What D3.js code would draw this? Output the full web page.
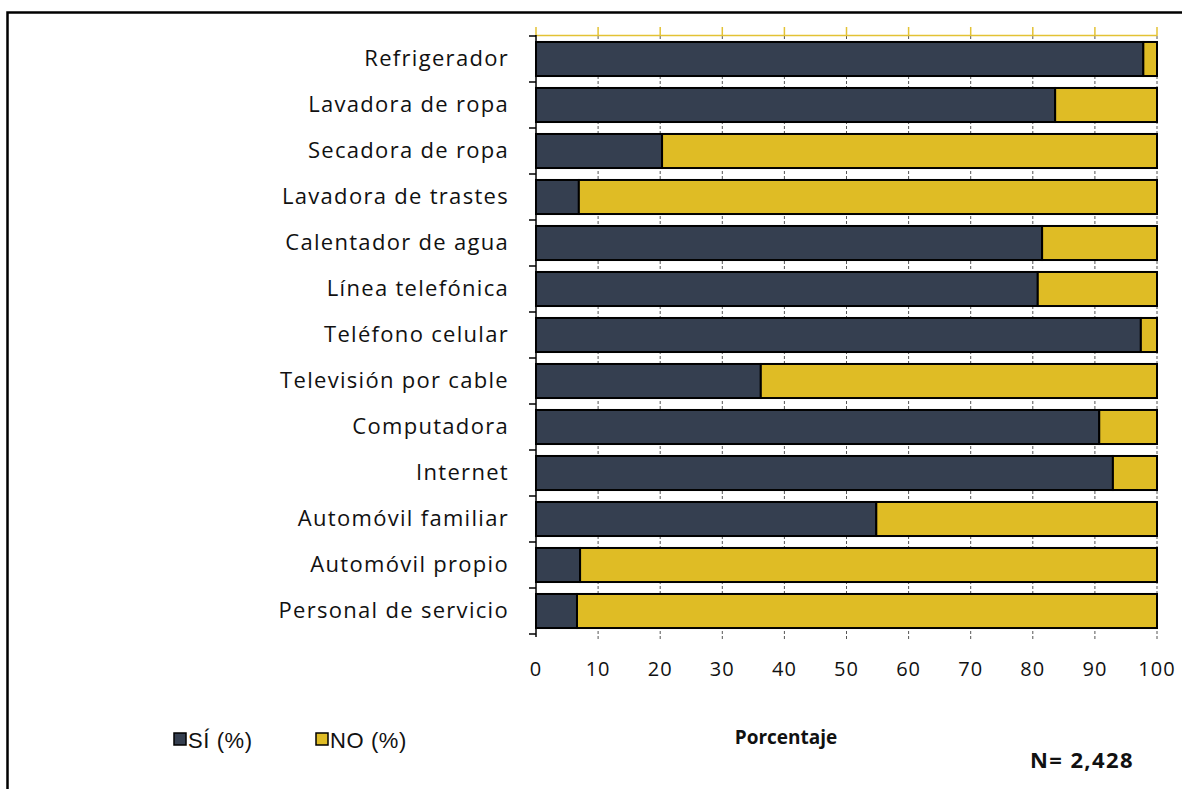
<!DOCTYPE html>
<html>
<head>
<meta charset="utf-8">
<script src="https://cdn.jsdelivr.net/npm/d3@7"></script>
<style>
  body { margin: 0; background: #fff; }
  svg { display: block; }
</style>
</head>
<body>
<div id="chart"></div>
<script>
// categories, top to bottom
var categories = [
    "Refrigerador", "Lavadora de ropa", "Secadora de ropa", "Lavadora de trastes",
    "Calentador de agua", "Línea telefónica", "Teléfono celular", "Televisión por cable",
    "Computadora", "Internet", "Automóvil familiar", "Automóvil propio", "Personal de servicio"
];
// percentage answering yes
var siValues = [97.8, 83.6, 20.3, 6.9, 81.5, 80.8, 97.4, 36.2, 90.7, 92.9, 54.8, 7.1, 6.6];
var xTicks = [0, 10, 20, 30, 40, 50, 60, 70, 80, 90, 100];
var seriesNames = ["SÍ (%)", "NO (%)"];
var colours = ["#353f50", "#dfbc25"];

var W = 1182, H = 789;
var svg = d3.select("#chart").append("svg")
    .attr("width", W)
    .attr("height", H);

// outer frame, runs off right and bottom edges
svg.append("rect")
    .attr("x", 7.5).attr("y", 12.5)
    .attr("width", W + 20).attr("height", H + 20)
    .attr("fill", "none")
    .attr("stroke", "#000")
    .attr("stroke-width", 2.5);

var x = d3.scaleLinear().domain([0, 100]).range([536, 1157]);
var y = d3.scaleBand().domain(categories).range([36, 634])
    .paddingInner(0.26).paddingOuter(0.13);

var data = categories.map(function(c, i) {
    return { cat: c, si: siValues[i], no: 100 - siValues[i] };
});

// gridlines behind the bars
svg.append("g").selectAll("line")
    .data(xTicks.slice(1))
    .enter().append("line")
    .attr("x1", function(d) { return x(d); })
    .attr("x2", function(d) { return x(d); })
    .attr("y1", 36).attr("y2", 639)
    .attr("stroke", "#555")
    .attr("stroke-width", 1)
    .attr("stroke-dasharray", "3,2");

// top gold line with ticks
var topLine = svg.append("g");
topLine.append("line")
    .attr("x1", x(0)).attr("x2", x(100))
    .attr("y1", 35.5).attr("y2", 35.5)
    .attr("stroke", "#e3c234").attr("stroke-width", 1.5);
topLine.selectAll(".gt")
    .data(xTicks)
    .enter().append("line")
    .attr("class", "gt")
    .attr("x1", function(d) { return x(d); })
    .attr("x2", function(d) { return x(d); })
    .attr("y1", 27).attr("y2", 36)
    .attr("stroke", "#e3c234").attr("stroke-width", 1.5);

// bars
var rows = svg.append("g").selectAll(".row")
    .data(data)
    .enter().append("g")
    .attr("class", "row");

rows.append("rect")
    .attr("x", x(0))
    .attr("y", function(d) { return y(d.cat); })
    .attr("width", function(d) { return x(d.si) - x(0); })
    .attr("height", y.bandwidth())
    .attr("fill", colours[0])
    .attr("stroke", "#000")
    .attr("stroke-width", 2);

rows.append("rect")
    .attr("x", function(d) { return x(d.si); })
    .attr("y", function(d) { return y(d.cat); })
    .attr("width", function(d) { return x(100) - x(d.si); })
    .attr("height", y.bandwidth())
    .attr("fill", colours[1])
    .attr("stroke", "#000")
    .attr("stroke-width", 2);

// left axis
var yAxis = d3.axisLeft(y).tickSize(0).tickPadding(27);
var ya = svg.append("g")
    .attr("transform", "translate(" + x(0) + ",0)")
    .call(yAxis);
ya.select(".domain").remove();
ya.selectAll("text")
    .style("font-family", "'Open Sans', sans-serif")
    .style("font-size", "22px")
    .style("letter-spacing", "1.3px")
    .attr("fill", "#111");

svg.append("line")
    .attr("x1", x(0)).attr("x2", x(0))
    .attr("y1", 35).attr("y2", 637)
    .attr("stroke", "#000").attr("stroke-width", 1.5);

var step = y.step();
var bounds = d3.range(categories.length + 1).map(function(i) { return 36 + i * step; });
svg.append("g").selectAll("line")
    .data(bounds)
    .enter().append("line")
    .attr("x1", x(0) - 7).attr("x2", x(0))
    .attr("y1", function(d) { return d; })
    .attr("y2", function(d) { return d; })
    .attr("stroke", "#000").attr("stroke-width", 1.5);

// x tick labels
svg.append("g").selectAll("text")
    .data(xTicks)
    .enter().append("text")
    .attr("x", function(d) { return x(d); })
    .attr("y", 676)
    .attr("text-anchor", "middle")
    .style("font-family", "'Open Sans', sans-serif")
    .style("font-size", "20px")
    .style("letter-spacing", "1px")
    .attr("fill", "#111")
    .text(function(d) { return d; });

// legend
var legend = svg.append("g");
var legX = [174, 316];
seriesNames.forEach(function(name, i) {
    legend.append("rect")
        .attr("x", legX[i]).attr("y", 733)
        .attr("width", 12).attr("height", 12)
        .attr("fill", colours[i])
        .attr("stroke", "#000").attr("stroke-width", 1.5);
    legend.append("text")
        .attr("x", legX[i] + 14).attr("y", 748)
        .style("font-family", "'Liberation Sans', Arial, sans-serif")
        .style("font-size", "22px")
        .style("letter-spacing", "0.6px")
        .attr("fill", "#111")
        .text(name);
});

svg.append("text")
    .attr("x", 786).attr("y", 744)
    .attr("text-anchor", "middle")
    .style("font-family", "'Open Sans', sans-serif")
    .style("font-size", "19px")
    .style("font-weight", "bold")
    .attr("fill", "#111")
    .text("Porcentaje");

svg.append("text")
    .attr("x", 1030).attr("y", 768)
    .style("font-family", "'Open Sans', sans-serif")
    .style("font-size", "22px")
    .style("letter-spacing", "1.4px")
    .style("font-weight", "bold")
    .attr("fill", "#111")
    .text("N= 2,428");
</script>
</body>
</html>
